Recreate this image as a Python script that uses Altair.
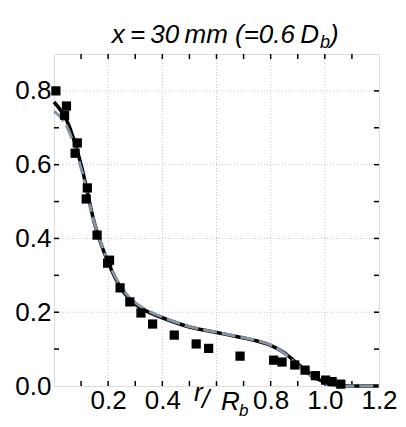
import altair as alt
import pandas as pd

# measured points (squares)
pts_x = [0.007, 0.046, 0.039, 0.086, 0.078, 0.123, 0.119, 0.159, 0.205, 0.198, 0.244,
         0.280, 0.321, 0.364, 0.444, 0.525, 0.571, 0.687, 0.811, 0.842, 0.889, 0.927,
         0.965, 1.003, 1.027, 1.059]
pts_y = [0.800, 0.759, 0.734, 0.659, 0.631, 0.537, 0.507, 0.409, 0.341, 0.333, 0.266,
         0.228, 0.198, 0.168, 0.138, 0.114, 0.102, 0.081, 0.070, 0.065, 0.057, 0.043,
         0.028, 0.016, 0.012, 0.005]

# solid black curve
solid_x = [0.0, 0.05, 0.1, 0.15, 0.2, 0.25, 0.3, 0.35, 0.4, 0.5, 0.6, 0.7, 0.75, 0.8,
           0.85, 0.9, 0.95, 1.0, 1.05, 1.1, 1.2]
solid_y = [0.77, 0.715, 0.60, 0.44, 0.335, 0.262, 0.222, 0.200, 0.185, 0.160, 0.145,
           0.130, 0.122, 0.110, 0.090, 0.060, 0.030, 0.010, 0.002, 0.0, 0.0]

# dashed grey curve
dash_x = [0.0, 0.05, 0.1, 0.15, 0.2, 0.25, 0.3, 0.35, 0.4, 0.5, 0.6, 0.7, 0.75, 0.8,
          0.85, 0.9, 0.95, 1.0, 1.05, 1.1, 1.2]
dash_y = [0.745, 0.70, 0.59, 0.44, 0.338, 0.266, 0.226, 0.203, 0.187, 0.161, 0.146,
          0.131, 0.123, 0.111, 0.089, 0.057, 0.026, 0.006, 0.0, 0.0, 0.0]

x_ticks = [0.1, 0.2, 0.3, 0.4, 0.5, 0.6, 0.7, 0.8, 0.9, 1.0, 1.1]
y_ticks = [0.1, 0.2, 0.3, 0.4, 0.5, 0.6, 0.7, 0.8]
x_grid = [0.2, 0.4, 0.6, 0.8, 1.0]
y_grid = [0.2, 0.4, 0.6, 0.8]
x_labels = [0.2, 0.4, 0.8, 1.0, 1.2]
y_labels = [0.0, 0.2, 0.4, 0.6, 0.8]

W, H = 325, 332
FONT = "Liberation Sans"

xs = alt.Scale(domain=[0, 1.2], nice=False, zero=False)
ys = alt.Scale(domain=[0, 0.9], nice=False, zero=False)

x_axis = alt.Axis(values=x_labels, format=".1f", ticks=False, grid=False, domain=False,
                  title=None, labelFont=FONT, labelFontSize=26, labelColor="black",
                  labelPadding=1, labelFlush=False)
y_axis = alt.Axis(values=y_labels, format=".1f", ticks=False, grid=False, domain=False,
                  title=None, labelFont=FONT, labelFontSize=26, labelColor="black",
                  labelPadding=3, labelFlush=False)

pts = pd.DataFrame({"x": pts_x, "y": pts_y})
solid = pd.DataFrame({"x": solid_x, "y": solid_y})
dash = pd.DataFrame({"x": dash_x, "y": dash_y})
xt = pd.DataFrame({"v": x_ticks})
yt = pd.DataFrame({"v": y_ticks})
xg = pd.DataFrame({"v": x_grid})
yg = pd.DataFrame({"v": y_grid})

grid_style = dict(color="#c4c4d8", strokeWidth=1, strokeDash=[1, 2])
gx = alt.Chart(xg).mark_rule(**grid_style).encode(x=alt.X("v:Q", scale=xs, axis=x_axis))
gy = alt.Chart(yg).mark_rule(**grid_style).encode(y=alt.Y("v:Q", scale=ys, axis=y_axis))

tick_style = dict(color="black", strokeWidth=1.5)
tb = alt.Chart(xt).mark_rule(**tick_style).encode(x=alt.X("v:Q", scale=xs), y=alt.value(H), y2=alt.value(H - 5))
tt = alt.Chart(xt).mark_rule(**tick_style).encode(x=alt.X("v:Q", scale=xs), y=alt.value(0), y2=alt.value(5))
tl = alt.Chart(yt).mark_rule(**tick_style).encode(y=alt.Y("v:Q", scale=ys), x=alt.value(0), x2=alt.value(5))
tr = alt.Chart(yt).mark_rule(**tick_style).encode(y=alt.Y("v:Q", scale=ys), x=alt.value(W), x2=alt.value(W - 5))

sq = alt.Chart(pts).mark_square(size=85, color="black", opacity=1).encode(
    x=alt.X("x:Q", scale=xs), y=alt.Y("y:Q", scale=ys))
l1 = alt.Chart(solid).mark_line(color="black", strokeWidth=3.5, interpolate="monotone").encode(
    x=alt.X("x:Q", scale=xs), y=alt.Y("y:Q", scale=ys))
l2 = alt.Chart(dash).mark_line(color="#8494a8", strokeWidth=3, strokeDash=[14, 5],
                               interpolate="monotone").encode(
    x=alt.X("x:Q", scale=xs), y=alt.Y("y:Q", scale=ys))

def txt(s, x, y, size=26, align="left", italic=True):
    return alt.Chart(alt.Data(values=[{"a": 1}])).mark_text(
        text=s, font=FONT, fontSize=size, fontStyle="italic" if italic else "normal",
        align=align, baseline="alphabetic", color="black").encode(
        x=alt.value(x), y=alt.value(y))

title_main = txt("x\u2009=\u200930\u2009mm (=0.6\u2009D", 265, -11, align="right")
title_sub = txt("b", 266, -6, size=18)
title_end = txt(")", 276, -11)

xl_r = txt("r", 140, H + 15)
xl_sl = txt("/", 148, H + 22)
xl_R = txt("R", 167, H + 24)
xl_b = txt("b", 185, H + 30, size=17)

chart = alt.layer(gx, gy, tb, tt, tl, tr, l1, l2, sq,
                  title_main, title_sub, title_end, xl_r, xl_sl, xl_R, xl_b).properties(
    width=W, height=H,
    autosize=alt.AutoSizeParams(type="none"),
    padding={"left": 46, "top": 46, "right": 19, "bottom": 33},
).configure_view(stroke="black", strokeWidth=2).configure(background="white")

chart.save("out.html", embed_options={"renderer": "svg", "actions": False})
